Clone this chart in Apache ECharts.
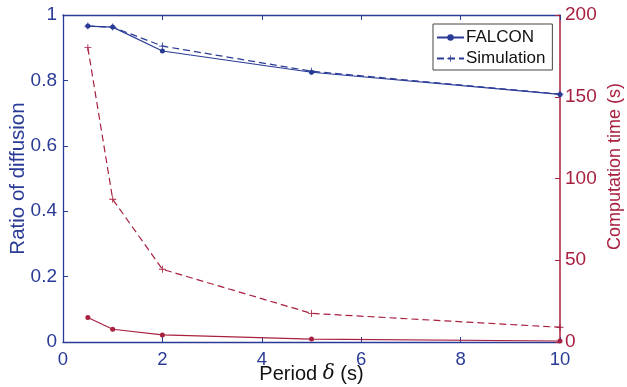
<!DOCTYPE html>
<html><head><meta charset="utf-8">
<script src="https://cdn.jsdelivr.net/npm/echarts@6/dist/echarts.min.js"></script>
<style>html,body{margin:0;padding:0;background:#fff}#c{width:627px;height:387px}</style>
</head><body><div id="c"></div>
<script>
const periods = [0.5, 1, 2, 5, 10];
const falconRatio = [0.966, 0.963, 0.890, 0.825, 0.757];
const simRatio = [0.966, 0.963, 0.905, 0.828, 0.758];
const falconTime = [15, 7.8, 4.3, 1.8, 0.6];
const simTime = [180, 87.3, 44.5, 17.5, 9];
const xTicks = [0, 2, 4, 6, 8, 10];
const leftTicks = [0, 0.2, 0.4, 0.6, 0.8, 1];
const rightTicks = [0, 50, 100, 150, 200];

const BLUE = '#2a3b96';
const RED = '#a8203f';
const FONT = 'Liberation Sans, Arial, Helvetica, sans-serif';
const PLUS = 'path://M-0.12,-1H0.12V-0.12H1V0.12H0.12V1H-0.12V0.12H-1V-0.12H-0.12Z';

const pairs = (ys) => periods.map((x, i) => [x, ys[i]]);

const chart = echarts.init(document.getElementById('c'), null, {renderer: 'canvas'});
chart.setOption({
  animation: false,
  textStyle: {fontFamily: FONT},
  grid: {left: 63, right: 67, top: 15, bottom: 45, containLabel: false, outerBoundsMode: 'none'},
  legend: {
    data: ['FALCON', 'Simulation'],
    orient: 'vertical',
    left: 433, top: 24,
    itemWidth: 27, itemHeight: 8, itemGap: 4,
    borderColor: '#444', borderWidth: 1, borderRadius: 0,
    padding: [5, 7, 3, 3],
    backgroundColor: '#fff',
    textStyle: {fontSize: 17, color: '#111', fontFamily: FONT, padding: [0, 0, 0, -3]}
  },
  xAxis: [{
    type: 'value', min: 0, max: 10, interval: 2,
    name: 'Period {i|δ} (s)', nameLocation: 'middle', nameGap: 22, nameMoveOverlap: false,
    nameTextStyle: {fontSize: 20, color: '#111', fontFamily: FONT, rich: {i: {fontStyle: 'italic', fontSize: 20, fontFamily: 'DejaVu Serif, serif', color: '#111'}}},
    axisLine: {onZero: false, lineStyle: {color: BLUE, width: 1.3}},
    axisTick: {inside: true, length: 5, lineStyle: {color: BLUE}},
    axisLabel: {fontSize: 18.5, color: BLUE, margin: 8, fontFamily: FONT},
    splitLine: {show: false}
  }, {
    type: 'value', min: 0, max: 10, interval: 2, position: 'top',
    axisLine: {onZero: false, lineStyle: {color: BLUE, width: 1.3}},
    axisTick: {inside: true, length: 5, lineStyle: {color: BLUE}},
    axisLabel: {show: false},
    splitLine: {show: false}
  }],
  yAxis: [{
    type: 'value', min: 0, max: 1, interval: 0.2, position: 'left',
    name: 'Ratio of diffusion', nameLocation: 'middle', nameGap: 34, nameMoveOverlap: false,
    nameTextStyle: {fontSize: 20.5, color: BLUE, fontFamily: FONT},
    axisLine: {show: true, onZero: false, lineStyle: {color: BLUE, width: 1.3}},
    axisTick: {show: true, inside: true, length: 5, lineStyle: {color: BLUE}},
    axisLabel: {fontSize: 19, color: BLUE, margin: 6, fontFamily: FONT, formatter: v => String(+v.toFixed(1))},
    splitLine: {show: false}
  }, {
    type: 'value', min: 0, max: 200, interval: 50, position: 'right',
    name: 'Computation time (s)', nameLocation: 'middle', nameGap: 46, nameRotate: 90, nameMoveOverlap: false,
    nameTextStyle: {fontSize: 18, color: RED, fontFamily: FONT, padding: [0, 0, 0, 24]},
    axisLine: {show: true, onZero: false, lineStyle: {color: RED, width: 1.5}},
    axisTick: {show: true, inside: true, length: 5, lineStyle: {color: RED}},
    axisLabel: {fontSize: 19, color: RED, margin: 5, fontFamily: FONT},
    splitLine: {show: false}
  }],
  series: [{
    name: 'FALCON', type: 'line', xAxisIndex: 0, yAxisIndex: 0,
    data: pairs(falconRatio),
    symbol: 'circle', symbolSize: 5,
    lineStyle: {color: BLUE, width: 1.2},
    itemStyle: {color: BLUE}
  }, {
    name: 'Simulation', type: 'line', xAxisIndex: 0, yAxisIndex: 0,
    data: pairs(simRatio),
    symbol: PLUS, symbolSize: 7,
    lineStyle: {color: BLUE, width: 1.2, type: [7, 4]},
    itemStyle: {color: BLUE}
  }, {
    name: 'FALCON time', type: 'line', xAxisIndex: 0, yAxisIndex: 1,
    data: pairs(falconTime),
    symbol: 'circle', symbolSize: 5,
    lineStyle: {color: RED, width: 1.2},
    itemStyle: {color: RED}
  }, {
    name: 'Simulation time', type: 'line', xAxisIndex: 0, yAxisIndex: 1,
    data: pairs(simTime),
    symbol: PLUS, symbolSize: 7,
    lineStyle: {color: RED, width: 1.2, type: [7, 4]},
    itemStyle: {color: RED}
  }]
});
</script></body></html>
